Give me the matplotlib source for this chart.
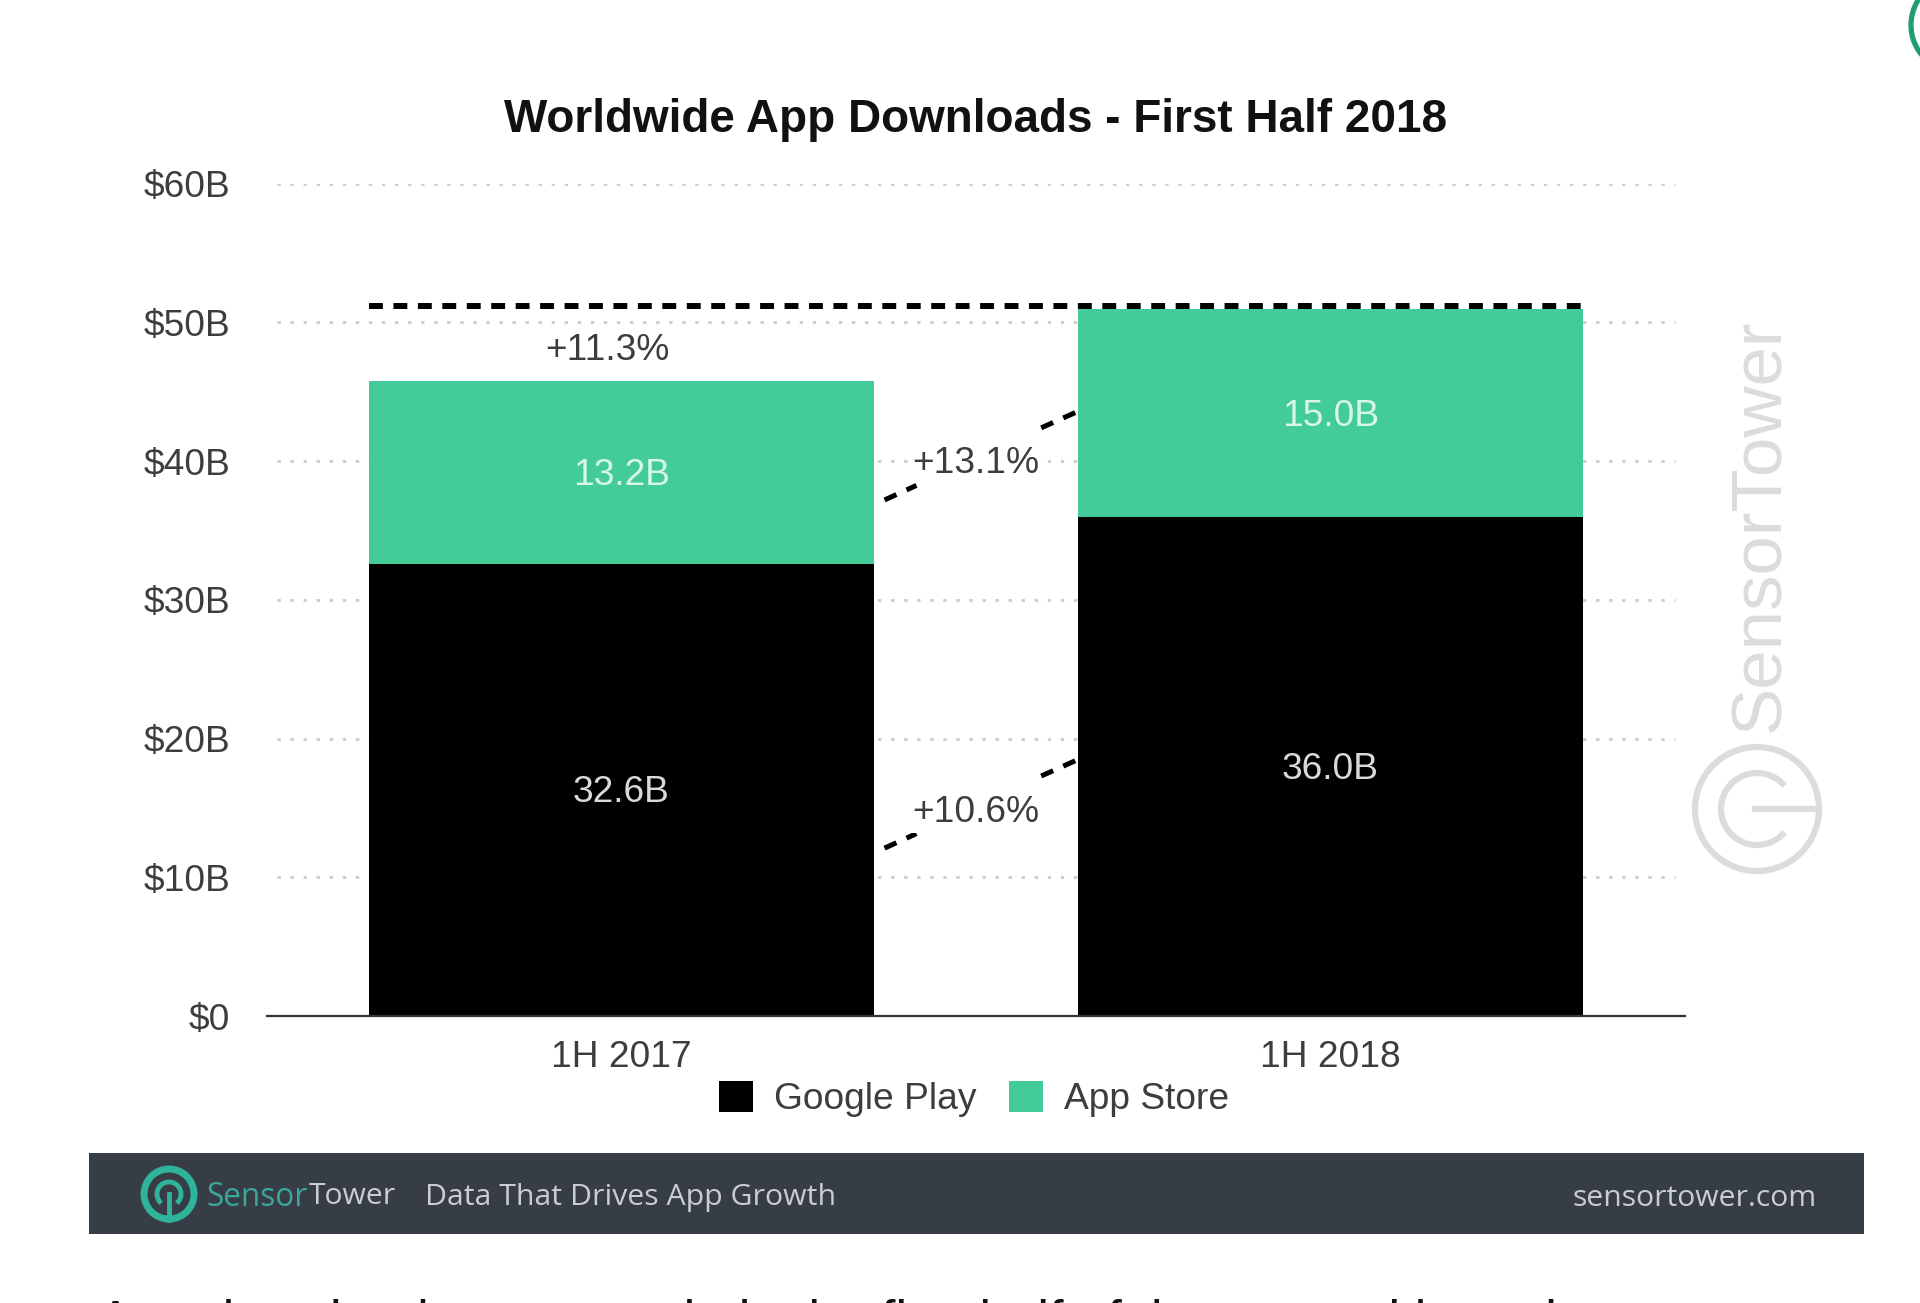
import matplotlib
matplotlib.use("Agg")
import matplotlib.pyplot as plt
from matplotlib.patches import Arc, Circle, Rectangle

# data
periods = ["1H 2017", "1H 2018"]
google_play = [32.6, 36.0]
app_store = [13.2, 15.0]
google_labels = ["32.6B", "36.0B"]
store_labels = ["13.2B", "15.0B"]
y_ticks = [0, 10, 20, 30, 40, 50, 60]
y_tick_labels = ["$0", "$10B", "$20B", "$30B", "$40B", "$50B", "$60B"]
total_growth = "+11.3%"
store_growth = "+13.1%"
google_growth = "+10.6%"

GREEN = "#43cc97"
TEXT = "#3d3d3d"
BAND = "#373d45"
BAR_WIDTH = 0.712
LABEL_SIZE = 26.7

plt.rcParams["font.family"] = ["Liberation Sans", "DejaVu Sans"]
plt.rcParams["lines.scale_dashes"] = False

W, H = 1920, 1303
fig = plt.figure(figsize=(W / 100, H / 100), dpi=100, facecolor="white")
ax = fig.add_axes([267 / W, (H - 1016) / H, (1685 - 267) / W, (1016 - 183.7) / H])

# gridlines stop a little short of the axis ends
for t in y_ticks[1:]:
    ax.plot([0.007, 0.993], [t, t], transform=ax.get_yaxis_transform(), color="#cfcfcf",
            lw=2.2, linestyle=(0, (2.4, 7.0)), zorder=1)

x = list(range(len(periods)))
ax.bar(x, google_play, width=BAR_WIDTH, color="black", label="Google Play", zorder=2)
ax.bar(x, app_store, width=BAR_WIDTH, bottom=google_play, color=GREEN, label="App Store", zorder=2)

# value labels sit slightly under the middle of each segment
for i in x:
    ax.text(i, google_play[i] / 2 - 0.22, google_labels[i], color="#d9d9d9", fontsize=LABEL_SIZE,
            ha="center", va="center", zorder=5)
    ax.text(i, google_play[i] + app_store[i] / 2 - 0.25, store_labels[i], color="#d8f7e8",
            fontsize=LABEL_SIZE, ha="center", va="center", zorder=5)

# growth annotations
left_edge = x[0] - BAR_WIDTH / 2
right_edge = x[1] + BAR_WIDTH / 2
ax.plot([left_edge, right_edge], [51.2, 51.2], color="black", lw=4.3,
        linestyle=(0, (10, 7.6)), dash_capstyle="butt", zorder=4)
connector = dict(color="black", lw=3.6, linestyle=(0, (9.4, 8)), dash_capstyle="butt", zorder=3)
ax.plot([0.371, 0.416], [37.2, 38.25], **connector)
ax.plot([0.592, 0.64], [42.4, 43.5], **connector)
ax.plot([0.371, 0.416], [12.1, 13.15], **connector)
ax.plot([0.592, 0.64], [17.3, 18.4], **connector)
white_box = dict(facecolor="white", edgecolor="none", pad=2)
ax.text(-0.02, 48.0, total_growth, color=TEXT, fontsize=LABEL_SIZE, ha="center", va="center", zorder=5)
ax.text(0.5, 39.85, store_growth, color=TEXT, fontsize=LABEL_SIZE, ha="center", va="center",
        bbox=white_box, zorder=5)
ax.text(0.5, 14.65, google_growth, color=TEXT, fontsize=LABEL_SIZE, ha="center", va="center",
        bbox=white_box, zorder=5)

ax.set_xlim(-0.5, 1.5)
ax.set_ylim(0, 60)
ax.set_xticks(x)
ax.set_xticklabels(periods)
ax.set_yticks(y_ticks)
ax.set_yticklabels(y_tick_labels)
ax.tick_params(axis="y", length=0, pad=26.5, labelsize=LABEL_SIZE, labelcolor=TEXT)
ax.tick_params(axis="x", length=0, pad=17.5, labelsize=LABEL_SIZE, labelcolor=TEXT)
for side in ["top", "left", "right"]:
    ax.spines[side].set_visible(False)
ax.spines["bottom"].set_color("#333333")
ax.spines["bottom"].set_linewidth(1.6)
ax.set_title("Worldwide App Downloads - First Half 2018", fontsize=33, fontweight="bold",
             color="#111111", pad=37)

ax.legend(loc="center", bbox_to_anchor=(974 / W, (H - 1099) / H), bbox_transform=fig.transFigure,
          ncol=2, frameon=False, fontsize=LABEL_SIZE, labelcolor=TEXT, borderpad=0,
          handlelength=0.92, handleheight=0.92, handletextpad=0.55, columnspacing=0.9)

# everything outside the chart, in image pixels
over = fig.add_axes([0, 0, 1, 1], zorder=10)
over.set_xlim(0, W)
over.set_ylim(H, 0)
over.axis("off")

# footer band
over.add_patch(Rectangle((89, 1153), 1775, 81, facecolor=BAND, edgecolor="none"))
TEAL = "#2fb39b"
over.add_patch(Circle((169, 1194), 25, facecolor="none", edgecolor=TEAL, lw=5))
over.add_patch(Arc((169, 1194), 24, 24, theta1=130, theta2=50, edgecolor=TEAL, lw=3.5))
over.plot([169, 169], [1194, 1220], color=TEAL, lw=3.5)
over.text(206, 1197, "Sensor", color="#3aa79a", fontsize=22.7, family="Open Sans", va="center", ha="left")
over.text(396, 1197, "Tower", color="#c9cdd1", fontsize=21.7, family="Open Sans", va="center", ha="right")
over.text(425, 1197, "Data That Drives App Growth", color="#c9cdd1", fontsize=21.8, family="Open Sans",
          va="center", ha="left")
over.text(1817, 1198, "sensortower.com", color="#c9cdd1", fontsize=21.7, family="Open Sans",
          va="center", ha="right")

# watermark
WM = "#dcdcdc"
over.text(1761, 525, "SensorTower", color=WM, fontsize=51, rotation=90, ha="center", va="center")
over.add_patch(Circle((1757, 809), 62, facecolor="none", edgecolor=WM, lw=4.5))
over.add_patch(Arc((1757, 809), 72, 72, theta1=40, theta2=320, edgecolor=WM, lw=4.5))
over.plot([1755, 1819], [809, 809], color=WM, lw=4.5)

# ring cut off by the top right corner
over.add_patch(Circle((1958, 25), 47, facecolor="none", edgecolor="#1f9e6e", lw=3.8))

# line of body text cut off by the bottom edge, only the tallest letters show
over.text(98, 1337, "App downloads grew again in the first half of the year, with totals",
          color="#111111", fontsize=37.5, family="Liberation Sans", va="baseline", ha="left")

fig.savefig("out.png", dpi=100)
